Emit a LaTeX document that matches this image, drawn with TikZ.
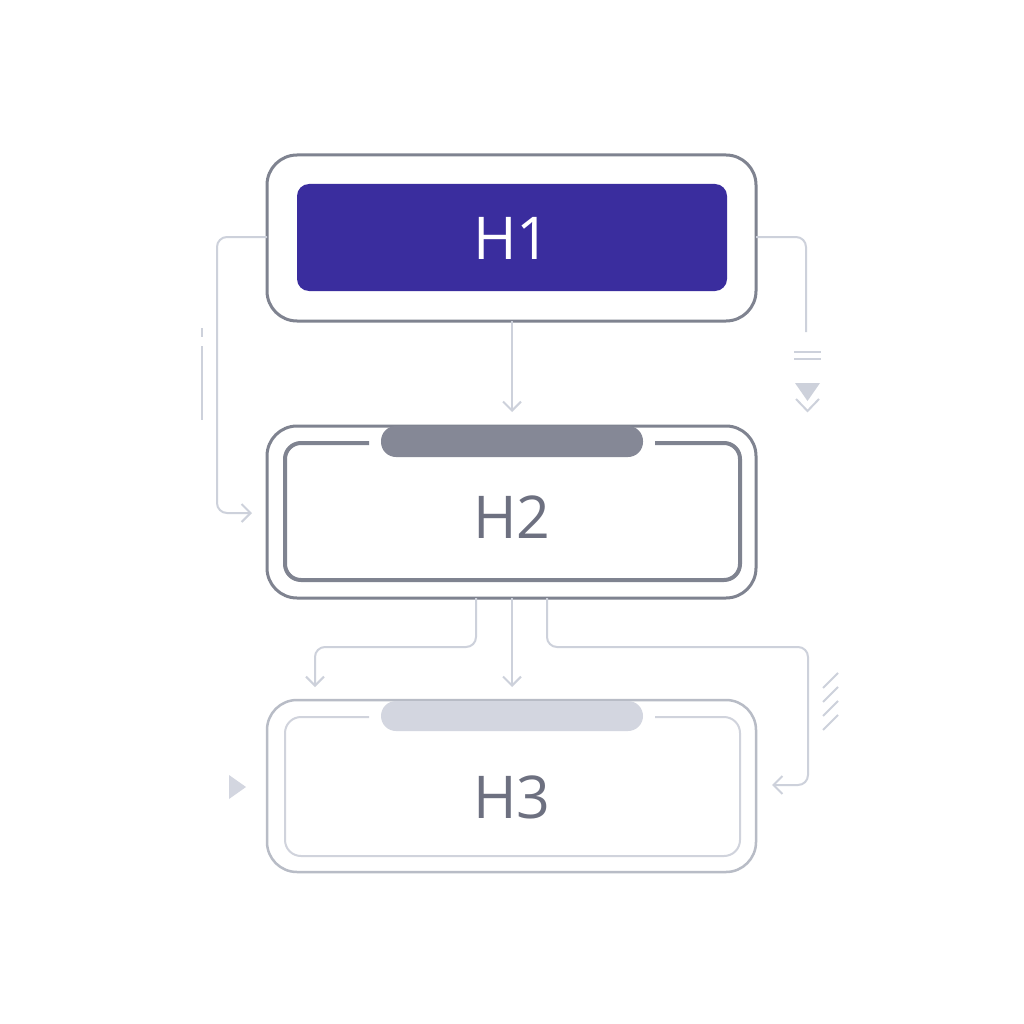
\documentclass[tikz,border=0pt]{standalone}
\usepackage{fontspec}
\setmainfont{Open Sans}
\usetikzlibrary{arrows.meta}
\definecolor{frame}{HTML}{7F8390}
\definecolor{deep}{HTML}{3A2D9E}
\definecolor{pillA}{HTML}{858896}
\definecolor{txt}{HTML}{6D7080}
\definecolor{lite}{HTML}{B8BCC6}
\definecolor{liter}{HTML}{D0D3DC}
\definecolor{pillB}{HTML}{D3D6E0}
\definecolor{conn}{HTML}{CDD1DB}
\tikzset{
  conline/.style={draw=conn, line width=2pt, rounded corners=10pt},
  conarrow/.style={conline, -{Straight Barb[length=9pt,width=18pt,line width=2pt]}},
  lbl/.style={font=\fontsize{59}{59}\selectfont, inner sep=0pt, anchor=center},
}
\begin{document}
\begin{tikzpicture}[x=1pt,y=-1pt]
\useasboundingbox (0,0) rectangle (1024,1024);
\fill[white] (0,0) rectangle (1024,1024);
% H1
\draw[frame, line width=3pt, rounded corners=30pt] (267,155) rectangle (756,321);
\fill[deep, rounded corners=12pt] (297,184) rectangle (727,291);
\node[lbl, text=white] (h1) at (512,238) {H1};
\coordinate (h1w) at (267,237);
\coordinate (h1e) at (756,237);
\coordinate (h1s) at (512,321);
% H2
\draw[frame, line width=3pt, rounded corners=30pt] (267,426) rectangle (756,598);
\draw[frame, line width=4pt, rounded corners=16pt] (369,443) -- (285,443) -- (285,580) -- (740,580) -- (740,443) -- (655,443);
\fill[pillA, rounded corners=15pt] (381,426) rectangle (643,457);
\node[lbl, text=txt] (h2) at (512,517) {H2};
\coordinate (h2n) at (512,412);
\coordinate (h2w) at (252,513);
% H3
\draw[lite, line width=2.5pt, rounded corners=30pt] (267,700) rectangle (756,872);
\draw[liter, line width=2pt, rounded corners=16pt] (369,717) -- (285,717) -- (285,856) -- (740,856) -- (740,717) -- (655,717);
\fill[pillB, rounded corners=15pt] (381,701) rectangle (643,731);
\node[lbl, text=txt] (h3) at (512,797) {H3};
% connectors
\draw[conarrow] (h1s) -- (h2n);
\draw[conarrow] (h1w) -- (217,237) -- (217,513) -- (h2w);
\draw[conline] (h1e) -- (806,237) -- (806,332);
\draw[conarrow] (476,598) -- (476,647) -- (315,647) -- (315,687);
\draw[conarrow] (512,598) -- (512,687);
\draw[conarrow] (547,598) -- (547,647) -- (808,647) -- (808,785) -- (772,785);
% decorations
\draw[conn, line width=2pt] (202,328) -- (202,337) (202,346) -- (202,420);
\draw[conn, line width=2pt] (794,352) -- (821,352) (794,359) -- (821,359);
\fill[conn] (795,383) -- (820,383) -- (807.5,401) -- cycle;
\draw[conn, line width=2pt] (796,399) -- (807.5,411) -- (819,399);
\foreach \i in {0,1,2,3} \draw[conn, line width=2pt] (823,688+\i*14) -- (838,673+\i*14);
\fill[pillB] (229,775) -- (246,787) -- (229,799) -- cycle;
\end{tikzpicture}
\end{document}
